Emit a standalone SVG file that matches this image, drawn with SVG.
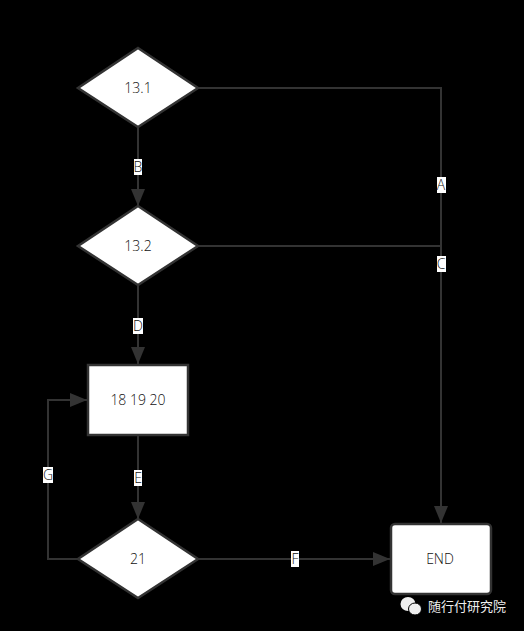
<svg xmlns="http://www.w3.org/2000/svg" width="524" height="631" viewBox="0 0 524 631">
<style>
.n{fill:#fff;stroke:#333;stroke-width:2.500}
.c{fill:none;stroke:#333;stroke-width:2}
.t{font-family:"Open Sans","Noto Sans",sans-serif;font-size:14px;font-weight:300;fill:#111;text-anchor:middle}
.l{fill:#fff}
.h{fill:#333}
</style>
<defs>
<marker id="a" markerUnits="userSpaceOnUse" markerWidth="18" markerHeight="14" refX="17" refY="7" orient="auto"><path class="h" d="M0 0L17 7L0 14Z"/></marker>
</defs>
<rect width="524" height="631" fill="#000"/>
<g id="connectors">
<path class="c" d="M198 88H441V523" marker-end="url(#a)"/>
<path class="c" d="M198 246H441"/>
<path class="c" d="M138 127V206" marker-end="url(#a)"/>
<path class="c" d="M138 285V364" marker-end="url(#a)"/>
<path class="c" d="M138 435V519" marker-end="url(#a)"/>
<path class="c" d="M198 559H390" marker-end="url(#a)"/>
<path class="c" d="M78 559H48V400H87" marker-end="url(#a)"/>
<rect class="l" x="134" y="159" width="8" height="16"/><text class="t" x="138" y="172">B</text>
<rect class="l" x="437" y="177" width="9" height="16"/><text class="t" x="441" y="190">A</text>
<rect class="l" x="437" y="256" width="9" height="16"/><text class="t" x="441" y="269">C</text>
<rect class="l" x="133" y="318" width="10" height="16"/><text class="t" x="138" y="331">D</text>
<rect class="l" x="134" y="470" width="8" height="16"/><text class="t" x="138" y="483">E</text>
<rect class="l" x="43" y="467" width="10" height="16"/><text class="t" x="48" y="480">G</text>
<rect class="l" x="291" y="551" width="8" height="16"/><text class="t" x="295" y="564">F</text>
</g>
<g id="n131"><path class="n" d="M138 48L198 88L138 127L78 88Z"/><text class="t" x="138" y="93">13.1</text></g>
<g id="n132"><path class="n" d="M138 206L198 246L138 285L78 246Z"/><text class="t" x="138" y="251">13.2</text></g>
<g id="n181920"><rect class="n" x="88" y="365" width="100" height="70"/><text class="t" x="138" y="405">18 19 20</text></g>
<g id="n21"><path class="n" d="M138 519L198 559L138 598L78 559Z"/><text class="t" x="138" y="564">21</text></g>
<g id="end"><rect class="n" x="391" y="524" width="100" height="70" rx="4"/><text class="t" x="440" y="564">END</text></g>
<g id="watermark">
<ellipse cx="408" cy="604" rx="7.500" ry="7" fill="#eee"/>
<ellipse cx="415" cy="609" rx="6.500" ry="6" fill="#eee" stroke="#000"/>
<text x="467" y="611" style="font-family:'Noto Sans CJK SC',sans-serif;font-size:13px;fill:#eee;text-anchor:middle">随行付研究院</text>
</g>
</svg>
